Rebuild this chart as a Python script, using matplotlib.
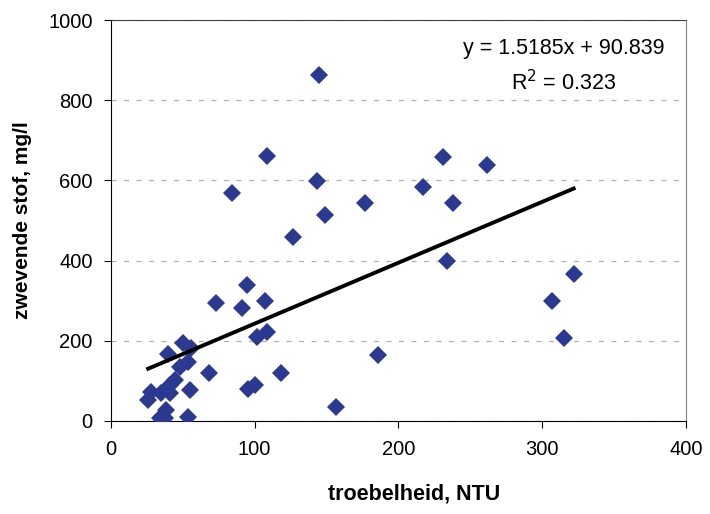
import numpy as np
import matplotlib.pyplot as plt

plt.rcParams['font.family'] = ['Liberation Sans', 'DejaVu Sans']

# data
ntu = [145, 109, 84, 143.5, 149, 127, 177, 231, 217, 262, 238, 234,
       95, 73.5, 107.6, 322, 306.6, 315, 91, 50, 40, 56, 102, 109,
       54, 48, 68.4, 118.7, 44.5, 41, 28, 35, 41, 55, 95.5, 100,
       26, 38.7, 34, 37.6, 54, 156.5, 186]
zs = [862, 662, 568, 598, 513, 458, 543, 658, 583, 638, 543, 398,
      338, 294, 300, 367, 298, 208, 283, 195, 167, 181, 209, 223,
      148, 135, 119, 119, 102, 90, 73, 69, 69, 76, 79, 90,
      52, 27, 7, 7, 9, 36, 165]

slope = 1.5185
intercept = 90.839
r2 = 0.323

fig = plt.figure(figsize=(7.1, 5.14), dpi=100)
ax = fig.add_axes([0.156, 0.181, 0.81, 0.78])

ax.plot(ntu, zs, 'D', color='#2B3990', markersize=9, markeredgewidth=0, zorder=3)

# trend line
xl = np.array([min(ntu), max(ntu)])
ax.plot(xl, slope * xl + intercept, color='black', linewidth=2.8, zorder=4)

ax.text(315, 930, f'y = {slope}x + {intercept}', ha='center', va='center', fontsize=15.5)
ax.text(315, 843, f'R$^2$ = {r2}', ha='center', va='center', fontsize=15.5)

ax.set_xlim(0, 400)
ax.set_ylim(0, 1000)
ax.set_xticks([0, 100, 200, 300, 400])
ax.set_yticks([0, 200, 400, 600, 800, 1000])
ax.yaxis.grid(True, linestyle=(0, (4, 6)), color='#b0b0b0', linewidth=0.9)
ax.tick_params(labelsize=14.5, direction='out', length=5)
ax.tick_params(axis='x', pad=9)
ax.tick_params(axis='y', pad=8)
ax.spines['right'].set_color('#808080')
ax.spines['top'].set_color('#404040')

ax.set_xlabel('troebelheid, NTU', fontsize=15.5, fontweight='bold', labelpad=18)
ax.xaxis.set_label_coords(0.527, -0.155)
ax.set_ylabel('zwevende stof, mg/l', fontsize=15, fontweight='bold', labelpad=12)

plt.savefig('out.png', dpi=100)
